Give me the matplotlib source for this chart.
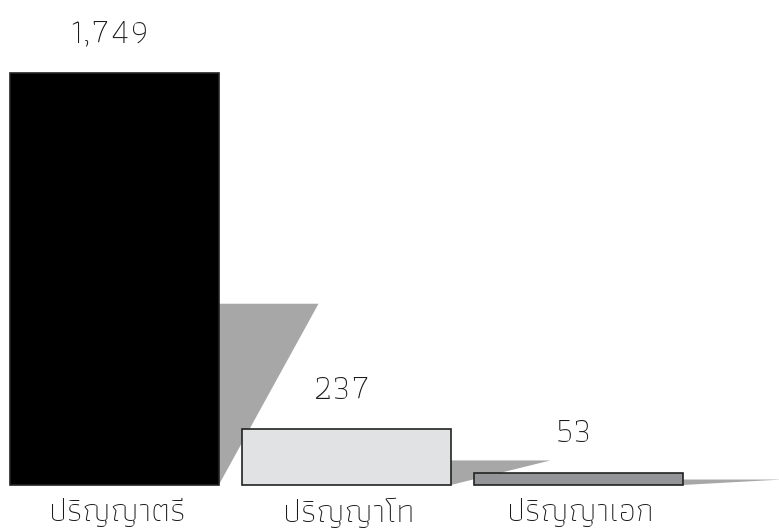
import matplotlib
matplotlib.use("Agg")
import matplotlib.pyplot as plt

categories = ["ปริญญาตรี", "ปริญญาโท", "ปริญญาเอก"]
values = [1749, 237, 53]
value_labels = ["1,749", "237", "53"]
bar_colors = ["#000000", "#e1e2e4", "#939598"]
SHADOW_COLOR = "#a7a7a7"
SHADOW_RATIO = 0.44      # shadow height relative to bar
SHADOW_WIDTH = 0.43      # in x units
BAR_WIDTH = 0.9

THAI = ["Athiti", "DejaVu Sans"]

fig = plt.figure(figsize=(7.79, 5.32), dpi=100)
ax = fig.add_axes([0, 0, 1, 1])

xs = list(range(len(values)))

# skewed shadows behind each bar
for x, v in zip(xs, values):
    right = x + BAR_WIDTH / 2
    h = v * SHADOW_RATIO
    ax.fill([right, right + SHADOW_WIDTH, right], [h, h, 0],
            color=SHADOW_COLOR, lw=0, zorder=1)

ax.bar(xs, values, width=BAR_WIDTH, color=bar_colors,
       edgecolor="#222222", linewidth=1.2, zorder=2)

for x, v, lab in zip(xs, values, value_labels):
    ax.annotate(lab, (x - 0.02, v), xytext=(0, 17), textcoords="offset points",
                ha="center", va="bottom", fontsize=25, color="#1a1a1a",
                family=THAI, fontweight="light")

for x, cat in zip(xs, categories):
    ax.annotate(cat, (x + 0.01, 0), xytext=(0, -9), textcoords="offset points",
                ha="center", va="top", fontsize=24, color="#1a1a1a",
                family=THAI, fontweight="light", annotation_clip=False)

ax.set_xlim(-0.493, 2.865)
ax.set_ylim(-199.5, 2059)
ax.axis("off")

fig.savefig("out.png")
